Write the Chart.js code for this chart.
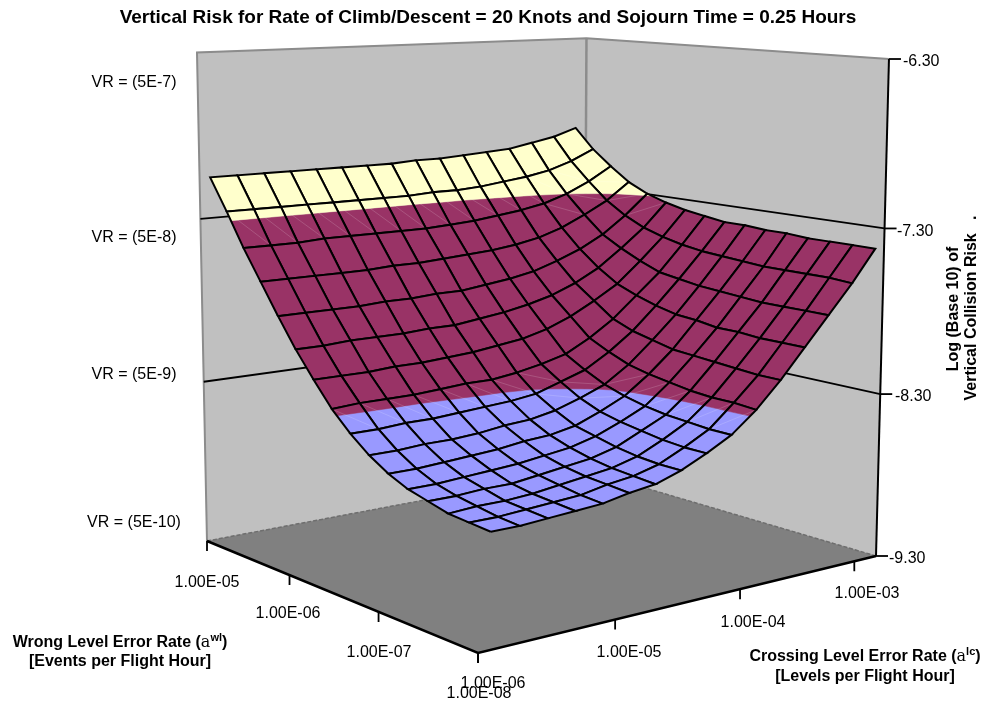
<!DOCTYPE html>
<html><head><meta charset="utf-8">
<style>html,body{margin:0;padding:0;background:#fff}canvas{display:block}</style>
<script src="https://cdn.jsdelivr.net/npm/chart.js@4"></script>
</head><body>
<div style="width:987px;height:701px;position:relative"><canvas id="c" width="987" height="701"></canvas></div>
<script>
const chartTitle = "Vertical Risk for Rate of Climb/Descent = 20 Knots and Sojourn Time = 0.25 Hours";
const crossingLabels = ["1.00E-06","1.00E-05","1.00E-04","1.00E-03"];
const wrongLevelLabels = ["1.00E-05","1.00E-06","1.00E-07","1.00E-08"];
const logTicks = [-9.30,-8.30,-7.30,-6.30];
const vrLabels = ["VR = (5E-10)","VR = (5E-9)","VR = (5E-8)","VR = (5E-7)"];
const bandEdges = [-9.30,-8.30,-7.30,-6.30];
const bandColors = ["#9999FF","#993366","#FFFFCC"];
// log10 vertical collision risk: rows wrong-level rate (1E-8 -> 1E-5), columns crossing-level rate (1E-6 -> 1E-3)
const row00=[-8.67,-8.67,-8.66,-8.65,-8.64,-8.61,-8.59,-8.54,-8.47,-8.39,-8.27,-8.12,-7.95,-7.78,-7.61,-7.42];
const row01=[-8.66,-8.66,-8.65,-8.64,-8.63,-8.60,-8.58,-8.54,-8.47,-8.39,-8.26,-8.12,-7.95,-7.78,-7.60,-7.42];
const row02=[-8.65,-8.64,-8.64,-8.63,-8.61,-8.59,-8.57,-8.53,-8.46,-8.38,-8.26,-8.11,-7.95,-7.78,-7.60,-7.42];
const row03=[-8.62,-8.62,-8.61,-8.61,-8.59,-8.57,-8.55,-8.51,-8.44,-8.37,-8.25,-8.10,-7.94,-7.78,-7.60,-7.42];
const row04=[-8.59,-8.59,-8.58,-8.57,-8.56,-8.54,-8.52,-8.48,-8.42,-8.35,-8.23,-8.09,-7.94,-7.77,-7.60,-7.41];
const row05=[-8.54,-8.54,-8.53,-8.52,-8.51,-8.49,-8.48,-8.45,-8.39,-8.32,-8.21,-8.08,-7.92,-7.76,-7.59,-7.41];
const row06=[-8.47,-8.47,-8.46,-8.46,-8.45,-8.43,-8.42,-8.39,-8.34,-8.28,-8.18,-8.05,-7.91,-7.75,-7.58,-7.40];
const row07=[-8.38,-8.38,-8.37,-8.37,-8.36,-8.35,-8.34,-8.32,-8.27,-8.22,-8.13,-8.02,-7.88,-7.73,-7.57,-7.40];
const row08=[-8.27,-8.26,-8.26,-8.26,-8.25,-8.24,-8.24,-8.22,-8.19,-8.15,-8.07,-7.97,-7.84,-7.71,-7.55,-7.38];
const row09=[-8.13,-8.13,-8.13,-8.12,-8.12,-8.11,-8.10,-8.08,-8.06,-8.02,-7.96,-7.88,-7.79,-7.66,-7.52,-7.36];
const row10=[-7.98,-7.98,-7.97,-7.97,-7.97,-7.96,-7.96,-7.94,-7.92,-7.89,-7.85,-7.79,-7.71,-7.60,-7.48,-7.33];
const row11=[-7.81,-7.81,-7.81,-7.81,-7.80,-7.80,-7.79,-7.79,-7.77,-7.75,-7.72,-7.67,-7.61,-7.53,-7.42,-7.29];
const row12=[-7.63,-7.63,-7.63,-7.63,-7.63,-7.62,-7.62,-7.61,-7.60,-7.59,-7.57,-7.54,-7.49,-7.42,-7.34,-7.23];
const row13=[-7.45,-7.45,-7.45,-7.44,-7.44,-7.44,-7.44,-7.44,-7.43,-7.42,-7.40,-7.38,-7.35,-7.30,-7.23,-7.14];
const row14=[-7.25,-7.25,-7.25,-7.25,-7.25,-7.25,-7.25,-7.25,-7.24,-7.24,-7.23,-7.21,-7.19,-7.16,-7.11,-7.04];
const row15=[-7.06,-7.06,-7.06,-7.06,-7.06,-7.06,-7.06,-7.06,-7.05,-7.05,-7.04,-7.03,-7.02,-6.99,-6.96,-6.91];
const surface=[row00,row01,row02,row03,row04,row05,row06,row07,row08,row09,row10,row11,row12,row13,row14,row15];

// camera of the 3-D box
const g=.1564,h=.1768,k=-.0387;
const camO={x:478,y:653}, camA={x:876*(1+g)-478,y:556*(1+g)-653}, camB={x:207*(1+h)-478,y:541*(1+h)-653}, camC={x:-19.4,y:-577};
function project(a,b,c){const d=1+g*a+h*b+k*c;
  return {x:(camO.x+camA.x*a+camB.x*b+camC.x*c)/d,y:(camO.y+camA.y*a+camB.y*b+camC.y*c)/d};}
const level=z=>(z+9.3)/3;
const gridA=i=>.035+.95*i/15, gridB=j=>.01+1.01*j/15;
const P3=(a,b,z)=>project(a,b,level(z));

const paint=[];
function add(pts,o){paint.push(Object.assign({data:pts,showLine:true,pointRadius:0,pointHitRadius:0,clip:false,tension:0,
  fill:false,borderColor:'transparent',backgroundColor:'transparent',borderWidth:0},o));}
function shape(pts,color){add(pts.concat([pts[0]]),{fill:'shape',backgroundColor:color,borderColor:color,borderWidth:.5});}
function line(pts,color,w,dash){add(pts,{borderColor:color,borderWidth:w,borderDash:dash||[],borderCapStyle:'butt'});}

// box
const [zMin,zMax]=[logTicks[0],logTicks[3]];
shape([P3(0,1,zMin),P3(1,1,zMin),P3(1,1,zMax),P3(0,1,zMax)],'#C0C0C0');
shape([P3(1,1,zMin),P3(1,0,zMin),P3(1,0,zMax),P3(1,1,zMax)],'#C0C0C0');
shape([P3(0,0,zMin),P3(1,0,zMin),P3(1,1,zMin),P3(0,1,zMin)],'#808080');
line([P3(0,1,zMin),P3(0,1,zMax),P3(1,1,zMax),P3(1,0,zMax)],'#8c8c8c',2);
line([P3(1,1,zMin),P3(1,1,zMax)],'#8c8c8c',2.5);
line([P3(0,1,zMin),P3(1,1,zMin),P3(1,0,zMin)],'#6e6e6e',1.5,[4,2]);
logTicks.slice(1,3).forEach(z=>line([P3(0,1,z),P3(1,1,z),P3(1,0,z)],'#000',1.8));
// axes
line([P3(1,0,zMin),P3(1,0,zMax)],'#000',2);
line([P3(0,1,zMin),P3(0,0,zMin),P3(1,0,zMin)],'#000',2.5);
logTicks.forEach(z=>{const p=P3(1,0,z);line([p,{x:p.x+12,y:p.y}],'#000',1.8);});
const crossTickAt=[0,.3125,.625,.9375], wrongTickAt=[1,.66,.33,0];
crossTickAt.forEach(a=>{const p=P3(a,0,zMin);line([p,{x:p.x,y:p.y+10}],'#000',1.8);});
wrongTickAt.forEach(b=>{const p=P3(0,b,zMin);line([p,{x:p.x,y:p.y+10}],'#000',1.8);});

// surface, back to front
function clipZ(poly,zv,keepAbove){const out=[];
  for(let n=0;n<poly.length;n++){const A=poly[n],B=poly[(n+1)%poly.length];
    const ia=keepAbove?A.z>=zv:A.z<=zv, ib=keepAbove?B.z>=zv:B.z<=zv;
    if(ia)out.push(A);
    if(ia!==ib){const t=(zv-A.z)/(B.z-A.z);out.push({a:A.a+t*(B.a-A.a),b:A.b+t*(B.b-A.b),z:zv});}
  }return out;}
for(let j=surface.length-2;j>=0;j--)for(let i=surface[0].length-2;i>=0;i--){
  const node=(ii,jj)=>({a:gridA(ii),b:gridB(jj),z:surface[jj][ii]});
  const quad=[node(i,j),node(i+1,j),node(i+1,j+1),node(i,j+1)];
  let bands=0;
  bandColors.forEach((col,n)=>{
    let poly=clipZ(quad,bandEdges[n],true); if(poly.length>2)poly=clipZ(poly,bandEdges[n+1],false);
    if(poly.length>2){shape(poly.map(q=>P3(q.a,q.b,q.z)),col);bands++;}
  });
  const o=quad.map(q=>P3(q.a,q.b,q.z));
  if(bands>1)line([o[3],o[1]],'rgba(255,255,255,.16)',1);
  line(o.concat([o[0]]),'#000',2);
}

const sans='"Liberation Sans", Arial, sans-serif';
const textPlugin={id:'labels3d',afterDraw(ch){const c=ch.ctx;c.save();
  c.fillStyle='#000';c.textBaseline='middle';
  const put=(t,x,y,al)=>{c.textAlign=al||'center';c.fillText(t,x,y+2);};
  c.font='16px '+sans;
  const vrY=[521,373,236,81];
  vrLabels.forEach((t,n)=>put(t,134,vrY[n]));
  const zX=[889,895,897,903];
  logTicks.forEach((v,n)=>{const p=P3(1,0,v);put(v.toFixed(2),zX[n],p.y+1,'left');});
  const cx=[493,629,753,867],cy=[682,651,621,592];
  crossingLabels.forEach((t,n)=>put(t,cx[n],cy[n]));
  const wx=[207,288,379,479],wy=[581,612,651,692];
  wrongLevelLabels.forEach((t,n)=>put(t,wx[n],wy[n]));
  const runs=(parts,x,y)=>{let w=0;parts.forEach(p=>{c.font=p[1];w+=c.measureText(p[0]).width;});let xx=x-w/2;c.textAlign='left';
    parts.forEach(p=>{c.font=p[1];c.fillText(p[0],xx,y+1.5+(p[2]||0));xx+=c.measureText(p[0]).width;});};
  const b='bold 16px '+sans, sy='16px "DejaVu Serif"', sup='bold 11px '+sans;
  runs([["Wrong Level Error Rate (",b],["a",sy],["wl",sup,-5],[")",b]],120,641);
  runs([["[Events per Flight Hour]",b]],120,660);
  runs([["Crossing Level Error Rate (",b],["a",sy],["lc",sup,-5],[")",b]],865,655);
  runs([["[Levels per Flight Hour]",b]],865,675);
  c.font=b;c.textAlign='center';
  [["Log (Base 10) of",954,309],["Vertical Collision Risk   .",972,308]].forEach(([t,x,y])=>{c.save();c.translate(x,y);c.rotate(-Math.PI/2);c.fillText(t,0,0);c.restore();});
  c.restore();}};

const titleH=32;
new Chart(document.getElementById('c'),{type:'scatter',
  data:{datasets:paint.slice().reverse()},
  plugins:[textPlugin],
  options:{responsive:false,animation:false,events:[],
    layout:{padding:{left:0,right:11,top:0,bottom:0}},
    scales:{x:{type:'linear',display:false,min:0,max:976},y:{type:'linear',display:false,reverse:true,min:titleH,max:701}},
    plugins:{legend:{display:false},tooltip:{enabled:false},
      title:{display:true,fullSize:false,text:chartTitle,color:'#000',font:{family:sans,size:19,weight:'bold',lineHeight:1.2},padding:{top:6.5,bottom:2.7}}}}});
</script>
</body></html>
